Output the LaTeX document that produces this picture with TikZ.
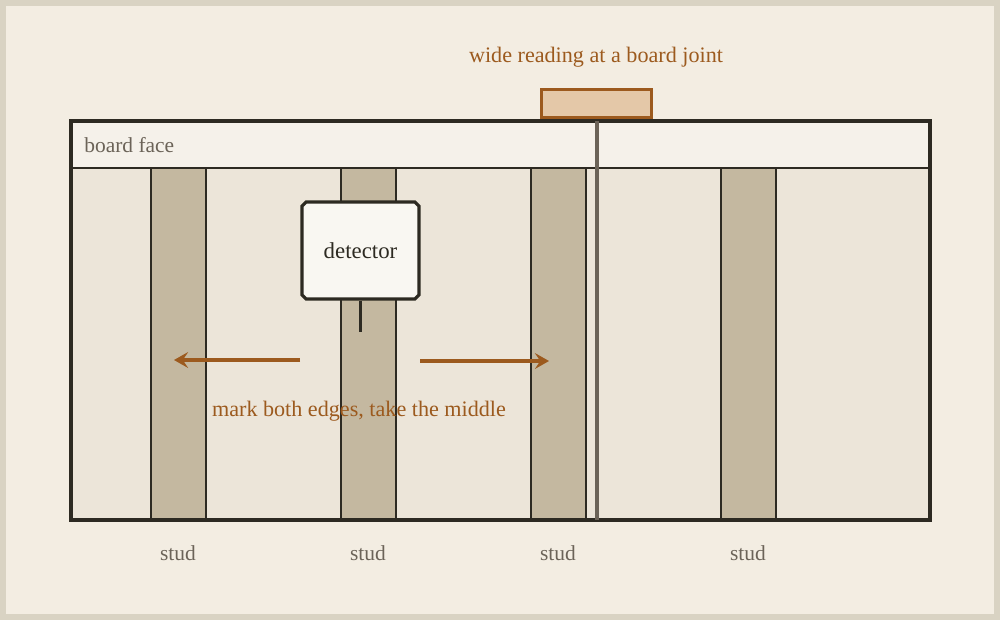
\documentclass[tikz,border=0pt]{standalone}
\usepackage{fontspec}
\setmainfont{Liberation Serif}
\usetikzlibrary{arrows.meta,shapes.misc}
\definecolor{paper}{HTML}{F3EDE2}
\definecolor{frame}{HTML}{D9D3C3}
\definecolor{ink}{HTML}{2D2A22}
\definecolor{wallfill}{HTML}{ECE5D9}
\definecolor{facefill}{HTML}{F5F1EA}
\definecolor{studfill}{HTML}{C4B8A0}
\definecolor{rust}{HTML}{9C5A1E}
\definecolor{grayink}{HTML}{6B6358}
\definecolor{padfill}{HTML}{E4C8A8}
\tikzset{
  label text/.style={text=grayink, font=\fontsize{12.2}{14}\selectfont},
  note text/.style={text=rust, font=\fontsize{12.6}{14}\selectfont},
  studbox/.style={draw=ink, line width=1.2pt, fill=studfill},
  pointer/.style={draw=rust, line width=2.2pt, -{Stealth[length=8pt,width=9pt,inset=3pt]}}
}
\begin{document}
\begin{tikzpicture}[x=0.02cm, y=-0.02cm]
    \fill [frame] (0,0) rectangle (1000,620);
    \fill [paper] (6,6) rectangle (994,614);
    \useasboundingbox (0,0) rectangle (1000,620);
    % wall and board face
    \fill [wallfill] (71,168) rectangle (930,520);
    \fill [facefill] (71,121) rectangle (930,168);
    \foreach \sx in {151,341,531,721}
      \draw [studbox] (\sx,168) rectangle ++(55,352);
    \draw [ink, line width=1.3pt] (71,168)--(930,168);
    \draw [ink, line width=1.8pt] (71,121) rectangle (930,520);
    \node [label text, anchor=west, inner sep=0pt] (face) at (84,145) {board face};
    % joint between boards
    \draw [grayink, line width=1.8pt] (597,121)--(597,520);
    \node [draw=rust, line width=1.5pt, fill=padfill, minimum width=110*0.02cm,
           minimum height=28*0.02cm, inner sep=0pt] (pad) at (596.5,103.5) {};
    \node [note text] (joint) at (596,57) {wide reading at a board joint};
    % detector
    \node [draw=ink, line width=1.8pt, fill=facefill!60!white, chamfered rectangle,
           chamfered rectangle xsep=1.2pt, chamfered rectangle ysep=1.2pt,
           chamfered rectangle corners={north west,north east,south west,south east},
           minimum width=117*0.02cm, minimum height=97*0.02cm, inner sep=0pt,
           font=\fontsize{13}{15}\selectfont, text=ink] (detector) at (360.5,250.5) {detector};
    \coordinate (tip) at ([yshift=-31*0.02cm]detector.south);
    \draw [ink, line width=1.7pt] (detector.south)--(tip);
    % scanning directions
    \coordinate (lstart) at (300,360);
    \coordinate (lend) at (174,360);
    \coordinate (rstart) at (420,361);
    \coordinate (rend) at (549,361);
    \draw [pointer] (lstart)--(lend);
    \draw [pointer] (rstart)--(rend);
    \node [note text] (hint) at (359,411) {mark both edges, take the middle};
    % stud labels
    \node [label text] (stud1) at (178,553) {stud};
    \node [label text] (stud2) at (368,553) {stud};
    \node [label text] (stud3) at (558,553) {stud};
    \node [label text] (stud4) at (748,553) {stud};
\end{tikzpicture}
\end{document}
